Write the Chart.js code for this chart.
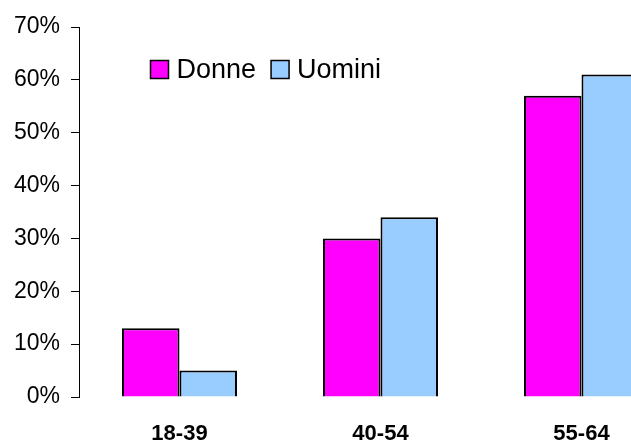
<!DOCTYPE html>
<html>
<head>
<meta charset="utf-8">
<script src="https://cdn.jsdelivr.net/npm/chart.js@4"></script>
<style>
  html, body { margin: 0; padding: 0; background: #fff; overflow: hidden; width: 631px; height: 441px; }
  #wrap { position: absolute; left: 0; top: 0; width: 700px; height: 441px; }
</style>
</head>
<body>
<div id="wrap"><canvas id="c" width="700" height="441"></canvas></div>
<script>
const categories = ['18-39', '40-54', '55-64'];
const donne = [13, 30, 57];
const uomini = [5, 34, 61];
const seriesNames = ['Donne', 'Uomini'];
const seriesColors = ['#FF00FF', '#99CCFF'];
const yTicks = [0, 10, 20, 30, 40, 50, 60, 70];

const FONT = 'Liberation Sans, Arial, sans-serif';

// Legend drawn inside the plot area (one row, like the original)
const insideLegend = {
  id: 'insideLegend',
  afterDraw(chart) {
    const ctx = chart.ctx;
    ctx.save();
    ctx.font = '27px ' + FONT;
    ctx.textBaseline = 'alphabetic';
    let x = 150.5;
    const boxTop = 60.5, box = 18, baseline = 78;
    chart.data.datasets.forEach((ds) => {
      ctx.fillStyle = ds.backgroundColor;
      ctx.fillRect(x, boxTop, box, box);
      ctx.lineWidth = 1.5;
      ctx.strokeStyle = '#000';
      ctx.strokeRect(x, boxTop, box, box);
      x += box + 8;
      ctx.fillStyle = '#000';
      ctx.fillText(ds.label, x, baseline);
      x += ctx.measureText(ds.label).width + 15;
    });
    ctx.restore();
  }
};

new Chart(document.getElementById('c'), {
  type: 'bar',
  data: {
    labels: categories,
    datasets: [
      { label: seriesNames[0], data: donne, backgroundColor: seriesColors[0], borderColor: '#000', borderWidth: 2 },
      { label: seriesNames[1], data: uomini, backgroundColor: seriesColors[1], borderColor: '#000', borderWidth: 2 }
    ]
  },
  options: {
    responsive: false,
    animation: false,
    devicePixelRatio: 1,
    layout: { padding: { left: 0, right: 18, top: 27, bottom: 0 } },
    datasets: { bar: { categoryPercentage: 0.572, barPercentage: 1.0 } },
    plugins: {
      tooltip: { enabled: false },
      legend: { display: false }
    },
    scales: {
      x: {
        afterFit(scale) { scale.height = 44; },
        grid: { display: false, drawTicks: false },
        border: { display: false },
        ticks: {
          color: '#000',
          padding: 24,
          font: { family: FONT, size: 22, weight: 'bold' }
        }
      },
      y: {
        min: 0, max: 70,
        afterFit(scale) { scale.width = 79; },
        afterBuildTicks(scale) { scale.ticks = yTicks.map(v => ({ value: v })); },
        grid: { display: true, drawOnChartArea: false, drawTicks: true, tickLength: 8, color: '#000', lineWidth: 1 },
        border: { display: true, color: '#000', width: 1 },
        ticks: {
          color: '#000',
          padding: 11,
          font: { family: FONT, size: 23 },
          callback: v => v + '%'
        }
      }
    }
  },
  plugins: [insideLegend]
});
</script>
</body>
</html>
